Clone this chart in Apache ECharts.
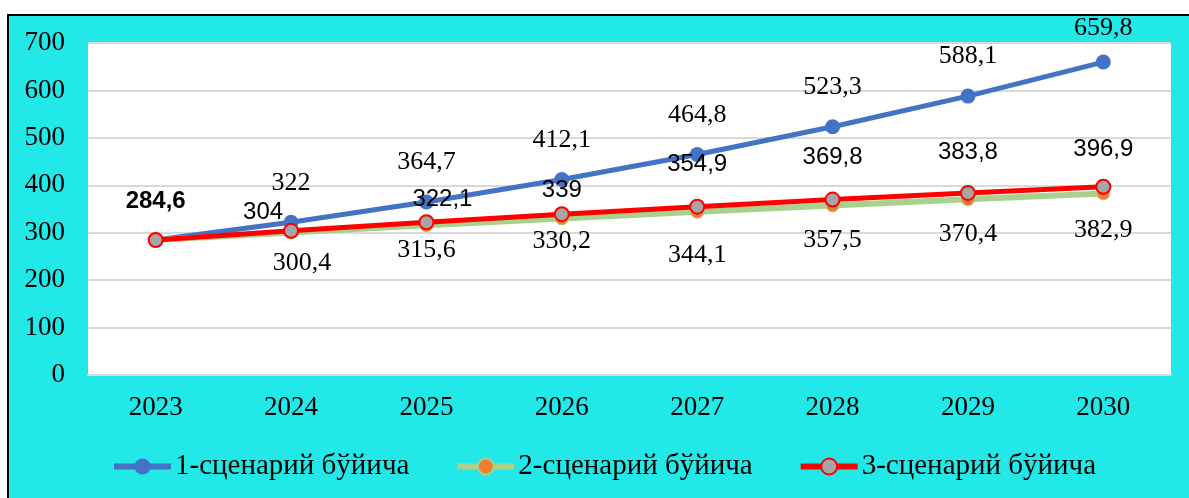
<!DOCTYPE html>
<html>
<head>
<meta charset="utf-8">
<script src="https://cdn.jsdelivr.net/npm/echarts@6/dist/echarts.min.js"></script>
<style>
  html, body { margin: 0; padding: 0; background: #fff; }
  #frame {
    position: absolute; left: 7px; top: 14px; width: 1200px; height: 500px;
    background: #22e8e8; border: 2px solid #000; box-sizing: border-box;
  }
  #chart { position: absolute; left: 0; top: 0; width: 1189px; height: 498px; }
</style>
</head>
<body>
<div id="frame"></div>
<div id="chart"></div>
<script>
// categories and values
var years = ["2023", "2024", "2025", "2026", "2027", "2028", "2029", "2030"];
var scen1 = [284.6, 322, 364.7, 412.1, 464.8, 523.3, 588.1, 659.8];
var scen2 = [284.6, 300.4, 315.6, 330.2, 344.1, 357.5, 370.4, 382.9];
var scen3 = [284.6, 304, 322.1, 339, 354.9, 369.8, 383.8, 396.9];
var names = ["1-сценарий бўйича", "2-сценарий бўйича", "3-сценарий бўйича"];

// label nudges (px) so the labels sit where they do in the original
var off1 = [[0, 0], [0, 0], [0, 0], [0, 0], [0, 0], [0, 0], [0, 0], [0, 6]];
var off2 = [[0, 0], [11, -2], [0, -8], [0, -10], [0, 10], [0, 2], [0, 2], [0, 4]];
var off3 = [[0, 0], [-28, 21], [16, 16], [0, 15], [0, -3], [0, -3], [0, -2], [0, 2]];

var serif = "'Liberation Serif', 'DejaVu Serif', serif";
var sans = "'Liberation Sans', Arial, sans-serif";

function fmt(v) {
  return String(v).replace(".", ",");
}

// build data items with per-point label tweaks
function points(vals, offs, hideFirst, boldFirst) {
  return vals.map(function (v, i) {
    var lab = { offset: offs[i] };
    if (i === 0 && hideFirst) lab.show = false;
    if (i === 0 && boldFirst) lab.fontWeight = "bold";
    return { value: v, label: lab };
  });
}

var chart = echarts.init(document.getElementById("chart"), null, { renderer: "canvas" });
chart.setOption({
  animation: false,
  backgroundColor: "transparent",
  grid: {
    left: 88, top: 43, right: 18, bottom: 123,
    show: true, backgroundColor: "#fff", borderWidth: 0
  },
  legend: {
    left: 106, top: 447,
    itemGap: 45, itemWidth: 57, itemHeight: 20,
    lineStyle: { width: 6 },
    textStyle: { fontFamily: serif, fontSize: 29, color: "#000", padding: [0, 0, 0, -1] },
    data: names
  },
  xAxis: {
    type: "category",
    data: years,
    boundaryGap: true,
    axisLine: { lineStyle: { color: "#d9d9d9", width: 2 } },
    axisTick: { show: false },
    axisLabel: { color: "#000", fontFamily: serif, fontSize: 27, margin: 19 }
  },
  yAxis: {
    type: "value",
    min: 0, max: 700, interval: 100,
    axisLine: { show: false },
    axisTick: { show: false },
    axisLabel: { color: "#000", fontFamily: serif, fontSize: 27, margin: 23 },
    splitLine: { lineStyle: { color: "#d9d9d9", width: 2 } }
  },
  series: [
    {
      name: names[0], type: "line",
      data: points(scen1, off1, true, false),
      symbol: "circle", symbolSize: 15,
      lineStyle: { color: "#4472c4", width: 5 },
      itemStyle: { color: "#4472c4" },
      label: {
        show: true, position: "top", distance: 19,
        fontFamily: serif, fontSize: 26, color: "#000",
        formatter: function (p) { return fmt(p.value); }
      },
      z: 2
    },
    {
      name: names[1], type: "line",
      data: points(scen2, off2, true, false),
      symbol: "circle", symbolSize: 13,
      lineStyle: { color: "#a9d18e", width: 6 },
      itemStyle: { color: "#ed7d31", borderColor: "#a9d18e", borderWidth: 1 },
      label: {
        show: true, position: "bottom", distance: 13,
        fontFamily: serif, fontSize: 26, color: "#000",
        formatter: function (p) { return fmt(p.value); }
      },
      z: 3
    },
    {
      name: names[2], type: "line",
      data: points(scen3, off3, false, true),
      symbol: "circle", symbolSize: 14,
      lineStyle: { color: "#ff0000", width: 5 },
      itemStyle: { color: "#a5a5a5", borderColor: "#ff0000", borderWidth: 2 },
      label: {
        show: true, position: "top", distance: 19,
        fontFamily: sans, fontSize: 24, color: "#000",
        formatter: function (p) { return fmt(p.value); }
      },
      z: 4
    }
  ]
});
</script>
</body>
</html>
